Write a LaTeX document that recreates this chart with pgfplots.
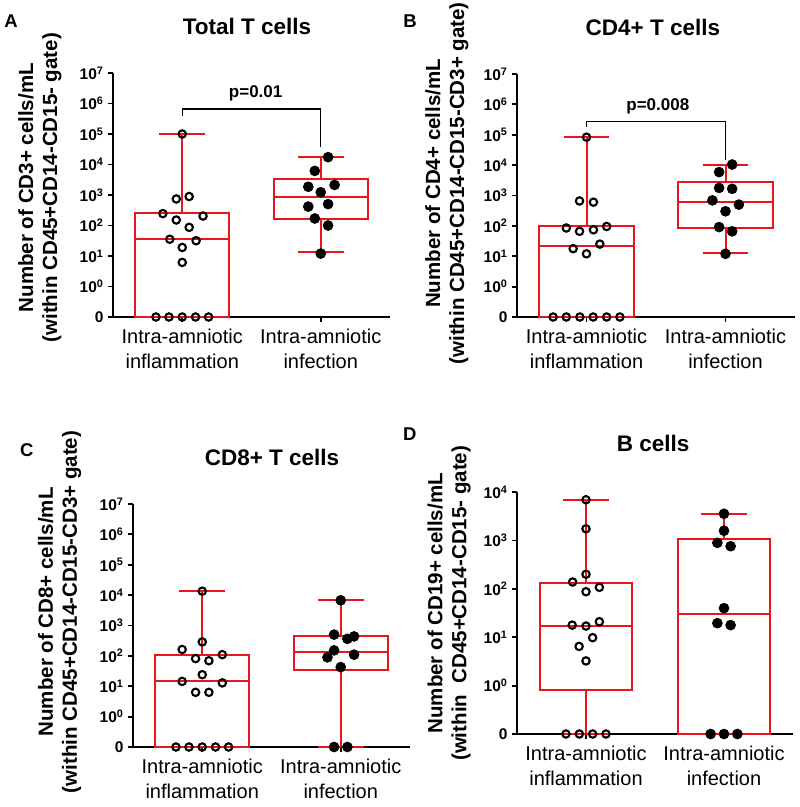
\documentclass[border=0pt]{standalone}
\usepackage{fontspec}
\setmainfont{Liberation Sans}
\usepackage{pgfplots}
\pgfplotsset{compat=1.18}
\usepgfplotslibrary{statistics}
\definecolor{boxred}{RGB}{232,22,28}
\pgfplotsset{
  panel/.style={
    scale only axis,
    anchor=south west,
    xmin=0.5, xmax=2.5,
    axis x line=bottom, axis y line=left,
    axis line style={-, line width=2pt, black},
    every outer x axis line/.append style={-},
    every outer y axis line/.append style={-},
    tick align=outside,
    major tick length=5pt,
    tick style={line width=1.8pt, black},
    xtick={1,2},
    xticklabels={Intra-amniotic\\inflammation, Intra-amniotic\\infection},
    xticklabel style={font=\fontsize{20}{25}\selectfont, align=center, yshift=-3pt},
    yticklabel style={font=\fontsize{15.5}{17}\selectfont\bfseries, xshift=-1pt},
    clip=false,
    title style={font=\fontsize{22.5}{27}\selectfont\bfseries, anchor=center, yshift=-6pt},
    ylabel style={font=\fontsize{20.5}{24}\selectfont\bfseries, align=center, anchor=center},
  },
  redbox/.style={draw=boxred, line width=2pt, solid, mark=none,
    boxplot/draw direction=y,
    boxplot/box extend=0.68, boxplot/whisker extend=0.33},
  openpts/.style={only marks, mark=o, mark size=3.7pt, black, mark options={line width=2.1pt, solid}},
  fullpts/.style={only marks, mark=*, mark size=5pt, black, mark options={fill=black, line width=0.6pt, solid}},
  brack/.style={black, line width=1.2pt, mark=none},
}
\tikzset{
  letter/.style={font=\fontsize{18.5}{20}\selectfont\bfseries},
  pval/.style={font=\fontsize{17}{20}\selectfont\bfseries},
}
\newcommand{\tl}[1]{10\textsuperscript{#1}}
\begin{document}
\begin{tikzpicture}
\useasboundingbox (0,0) rectangle (800pt,807pt);
% ---------------- A ----------------
\begin{axis}[panel, at={(113pt,490pt)}, width=277pt, height=244pt,
  ymin=-1, ymax=7, ytick={-1,0,...,7},
  yticklabels={0,\tl{0},\tl{1},\tl{2},\tl{3},\tl{4},\tl{5},\tl{6},\tl{7}},
  title={Total T cells}, title style={at={(axis description cs:0.484,1.189)}},
  ylabel={Number of CD3+ cells/mL\\(within CD45+CD14-CD15- gate)},
  ylabel style={at={(axis description cs:-0.264,0.53)}, anchor=center}]
\addplot[redbox, boxplot prepared={median=1.55, upper quartile=2.40, lower quartile=-1, upper whisker=5.0, lower whisker=-1, draw position=1}] coordinates {};
\addplot[redbox, boxplot prepared={median=2.92, upper quartile=3.52, lower quartile=2.20, upper whisker=4.25, lower whisker=1.12, draw position=2}] coordinates {};
\addplot[openpts] coordinates {(1,5.0) (0.957,2.87) (1.05,2.95) (0.86,2.39) (1.15,2.31) (0.957,2.18) (1.05,1.94) (0.91,1.55) (1.10,1.50) (1,1.28) (1,0.79) (0.81,-1) (0.904,-1) (1,-1) (1.096,-1) (1.19,-1)};
\addplot[fullpts] coordinates {(2.053,4.24) (1.957,3.79) (1.91,3.27) (2.10,3.33) (2,3.09) (1.91,2.62) (2.053,2.70) (1.957,2.23) (2.053,2.00) (2,1.08)};
\addplot[brack] coordinates {(1,5.60) (1,5.82) (2,5.82) (2,4.57)};
\node[pval] at (axis cs:1.53,6.34) {p=0.01};
\node[letter] at (axis description cs:-0.368,1.213) {A};
\end{axis}
% ---------------- B ----------------
\begin{axis}[panel, at={(517pt,490pt)}, width=278pt, height=243pt,
  ymin=-1, ymax=7, ytick={-1,0,...,7},
  yticklabels={0,\tl{0},\tl{1},\tl{2},\tl{3},\tl{4},\tl{5},\tl{6},\tl{7}},
  title={CD4+ T cells}, title style={at={(axis description cs:0.489,1.193)}},
  ylabel={Number of CD4+ cells/mL\\(within CD45+CD14-CD15-CD3+ gate)},
  ylabel style={at={(axis description cs:-0.252,0.55)}, anchor=center}]
\addplot[redbox, boxplot prepared={median=1.33, upper quartile=1.98, lower quartile=-1, upper whisker=4.94, lower whisker=-1, draw position=1}] coordinates {};
\addplot[redbox, boxplot prepared={median=2.78, upper quartile=3.44, lower quartile=1.94, upper whisker=4.02, lower whisker=1.12, draw position=2}] coordinates {};
\addplot[openpts] coordinates {(1,4.92) (0.95,2.82) (1.05,2.78) (0.855,1.93) (0.95,1.82) (1.05,1.87) (1.145,1.98) (1.096,1.40) (0.904,1.25) (1,1.08) (0.76,-1) (0.855,-1) (0.952,-1) (1.048,-1) (1.145,-1) (1.24,-1)};
\addplot[fullpts] coordinates {(2.048,4.02) (1.954,3.77) (1.954,3.25) (2.048,3.22) (1.906,2.84) (2.096,2.70) (2,2.48) (1.954,1.96) (2.048,1.82) (2,1.08)};
\addplot[brack] coordinates {(1,5.27) (1,5.44) (2,5.44) (2,4.17)};
\node[pval] at (axis cs:1.513,5.93) {p=0.008};
\node[letter] at (axis description cs:-0.385,1.218) {B};
\end{axis}
% ---------------- C ----------------
\begin{axis}[panel, at={(133pt,60pt)}, width=277pt, height=243pt,
  ymin=-1, ymax=7, ytick={-1,0,...,7},
  yticklabels={0,\tl{0},\tl{1},\tl{2},\tl{3},\tl{4},\tl{5},\tl{6},\tl{7}},
  title={CD8+ T cells}, title style={at={(axis description cs:0.502,1.193)}},
  ylabel={Number of CD8+ cells/mL\\(within CD45+CD14-CD15-CD3+ gate)},
  ylabel style={at={(axis description cs:-0.265,0.556)}, anchor=center}]
\addplot[redbox, boxplot prepared={median=1.16, upper quartile=2.04, lower quartile=-1, upper whisker=4.13, lower whisker=-1, draw position=1}] coordinates {};
\addplot[redbox, boxplot prepared={median=2.13, upper quartile=2.67, lower quartile=1.52, upper whisker=3.85, lower whisker=-1, draw position=2}] coordinates {};
\addplot[openpts] coordinates {(1,4.13) (1,2.46) (0.855,2.21) (0.952,1.91) (1.048,1.84) (1.145,2.04) (1,1.38) (0.855,1.16) (1.145,1.11) (0.952,0.80) (1.048,0.80) (0.81,-1) (0.904,-1) (1,-1) (1.096,-1) (1.19,-1)};
\addplot[fullpts] coordinates {(2,3.83) (1.952,2.70) (2.048,2.56) (2.096,2.64) (1.952,2.18) (1.904,1.95) (2.096,2.04) (2,1.63) (1.952,-1) (2.048,-1)};
\node[letter] at (axis description cs:-0.383,1.222) {C};
\end{axis}
% ---------------- D ----------------
\begin{axis}[panel, at={(517pt,73pt)}, width=276pt, height=242pt,
  ymin=-1, ymax=4, ytick={-1,0,...,4},
  yticklabels={0,\tl{0},\tl{1},\tl{2},\tl{3},\tl{4}},
  title={B cells}, title style={at={(axis description cs:0.493,1.202)}},
  ylabel={Number of CD19+ cells/mL\\(within\ \ CD45+CD14-CD15- gate)},
  ylabel style={at={(axis description cs:-0.246,0.54)}, anchor=center}]
\addplot[redbox, boxplot/box extend=0.66, boxplot prepared={median=1.24, upper quartile=2.11, lower quartile=-0.09, upper whisker=3.84, lower whisker=-1, draw position=1}] coordinates {};
\addplot[redbox, boxplot/box extend=0.66, boxplot prepared={median=1.48, upper quartile=3.03, lower quartile=-1, upper whisker=3.55, lower whisker=-1, draw position=2}] coordinates {};
\addplot[openpts] coordinates {(1,3.84) (1,3.24) (1,2.30) (0.903,2.14) (1,1.94) (1.097,2.03) (0.90,1.25) (1,1.23) (1.097,1.32) (1.048,0.99) (0.95,0.81) (1,0.51) (0.855,-1) (0.952,-1) (1.048,-1) (1.145,-1)};
\addplot[fullpts] coordinates {(2,3.55) (2,3.20) (1.952,2.95) (2.048,2.88) (2,1.60) (1.952,1.29) (2.048,1.25) (1.903,-1) (2,-1) (2.097,-1)};
\node[letter] at (axis description cs:-0.388,1.24) {D};
\end{axis}
\end{tikzpicture}
\end{document}
